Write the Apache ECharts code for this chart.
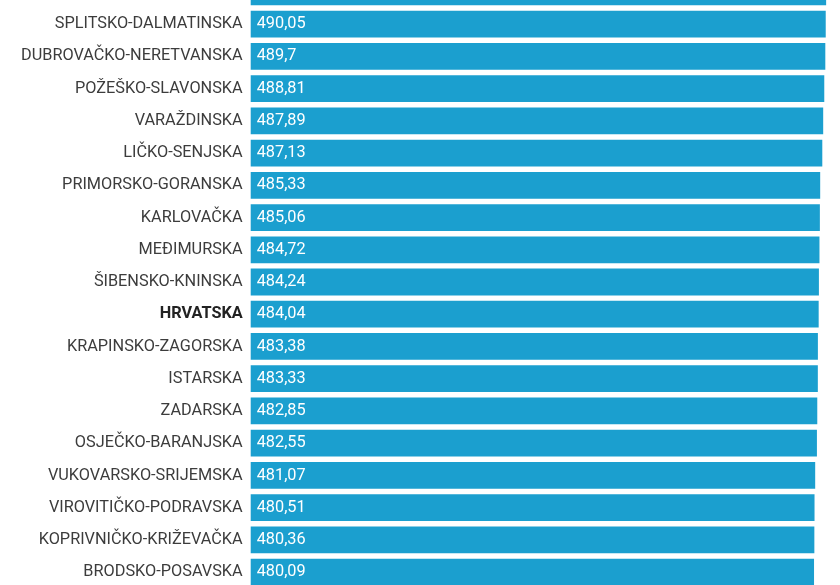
<!DOCTYPE html>
<html>
<head>
<meta charset="utf-8">
<script src="https://cdn.jsdelivr.net/npm/echarts@6/dist/echarts.min.js"></script>
<style>
html,body{margin:0;padding:0;background:#fff;}
#c{width:840px;height:585px;}
</style>
</head>
<body>
<div id="c"></div>
<script>
const categories = [
  'ZAGREBAČKA',
  'SPLITSKO-DALMATINSKA',
  'DUBROVAČKO-NERETVANSKA',
  'POŽEŠKO-SLAVONSKA',
  'VARAŽDINSKA',
  'LIČKO-SENJSKA',
  'PRIMORSKO-GORANSKA',
  'KARLOVAČKA',
  'MEĐIMURSKA',
  'ŠIBENSKO-KNINSKA',
  'HRVATSKA',
  'KRAPINSKO-ZAGORSKA',
  'ISTARSKA',
  'ZADARSKA',
  'OSJEČKO-BARANJSKA',
  'VUKOVARSKO-SRIJEMSKA',
  'VIROVITIČKO-PODRAVSKA',
  'KOPRIVNIČKO-KRIŽEVAČKA',
  'BRODSKO-POSAVSKA'
];
const values = [490.4, 490.05, 489.7, 488.81, 487.89, 487.13, 485.33, 485.06, 484.72, 484.24, 484.04, 483.38, 483.33, 482.85, 482.55, 481.07, 480.51, 480.36, 480.09];
const highlight = 'HRVATSKA';

const chart = echarts.init(document.getElementById('c'));
chart.setOption({
  animation: false,
  grid: { left: 250.7, width: 586.7, top: -24.3, height: 612.6, containLabel: false, outerBoundsMode: 'none' },
  xAxis: { type: 'value', min: 0, max: 500, show: false },
  yAxis: {
    type: 'category',
    data: categories,
    inverse: true,
    axisLine: { show: false },
    axisTick: { show: false },
    splitLine: { show: false },
    axisLabel: {
      margin: 8,
      fontFamily: 'Roboto',
      fontSize: 16.3,
      color: '#3c3c3c',
      formatter: function (v) { return v === highlight ? '{b|' + v + '}' : v; },
      rich: { b: { fontFamily: 'Roboto', fontSize: 16.3, fontWeight: 'bold', color: '#222' } }
    }
  },
  series: [{
    type: 'bar',
    data: values,
    barCategoryGap: '17%',
    itemStyle: { color: '#1b9fcf' },
    label: {
      show: true,
      position: 'insideLeft',
      distance: 6,
      fontFamily: 'Roboto',
      fontSize: 16.3,
      color: '#ffffff',
      formatter: function (p) { return String(p.value).replace('.', ','); }
    }
  }]
});
</script>
</body>
</html>
